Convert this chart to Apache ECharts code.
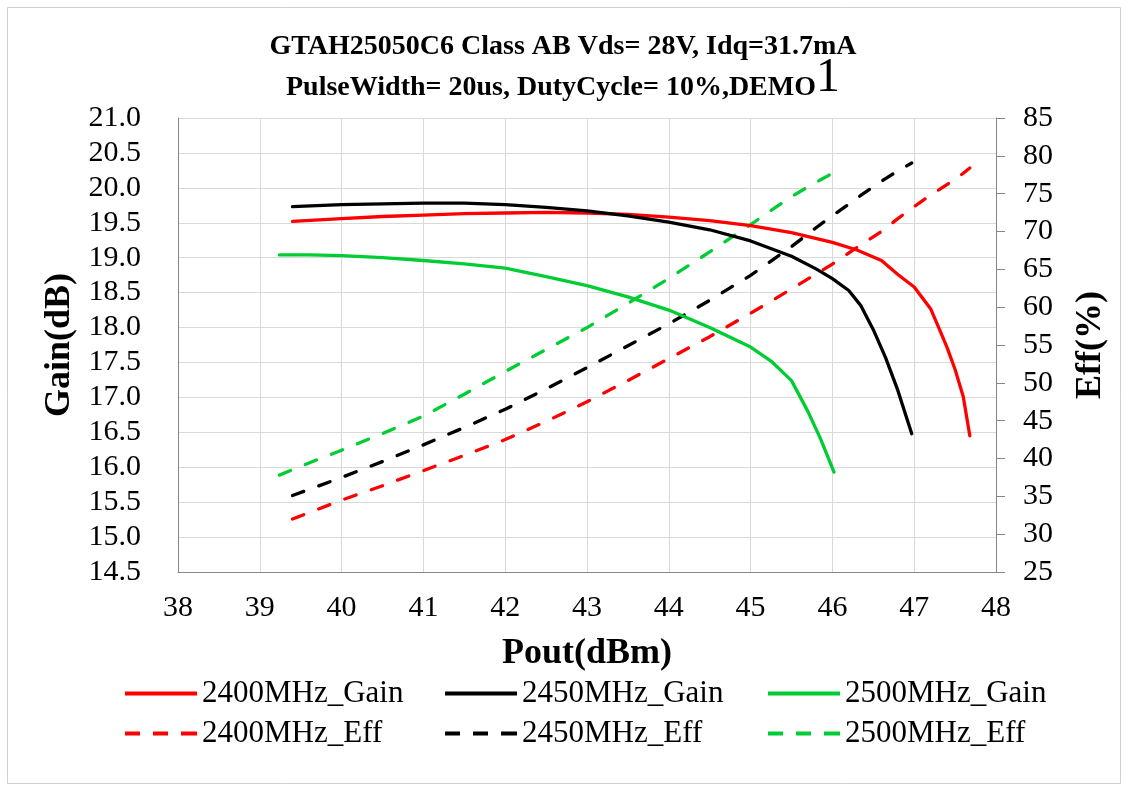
<!DOCTYPE html>
<html>
<head>
<meta charset="utf-8">
<script src="https://cdn.jsdelivr.net/npm/echarts@6/dist/echarts.min.js"></script>
<style>html,body{margin:0;padding:0;background:#fff;}#c{width:1126px;height:785px;}</style>
</head>
<body>
<div id="c"></div>
<script>
// ---- data ----
const titleLine1 = 'GTAH25050C6 Class AB Vds= 28V, Idq=31.7mA';
const titleLine2 = 'PulseWidth= 20us, DutyCycle= 10%,DEMO';
const titleSuffix = '1';
const xName = 'Pout(dBm)';
const yLeftName = 'Gain(dB)';
const yRightName = 'Eff(%)';
const seriesNames = ['2400MHz_Gain', '2450MHz_Gain', '2500MHz_Gain', '2400MHz_Eff', '2450MHz_Eff', '2500MHz_Eff'];

const pout2400 = [39.4, 40.0, 40.5, 41.0, 41.5, 42.0, 42.5, 43.0, 43.5, 44.0, 44.5, 45.0, 45.5, 46.0, 46.3, 46.6, 46.8, 47.0, 47.2, 47.3, 47.4, 47.5, 47.6, 47.68];
const gain2400 = [19.52, 19.56, 19.59, 19.61, 19.63, 19.64, 19.65, 19.64, 19.62, 19.58, 19.53, 19.46, 19.36, 19.22, 19.11, 18.96, 18.76, 18.58, 18.27, 18.00, 17.72, 17.40, 17.01, 16.45];
const eff2400  = [32.0, 34.5, 36.4, 38.4, 40.4, 42.5, 44.9, 47.5, 50.3, 53.2, 56.1, 59.2, 62.4, 65.7, 67.9, 70.0, 71.7, 73.3, 74.8, 75.5, 76.2, 76.9, 77.7, 78.4];

const pout2450 = [39.4, 40.0, 40.5, 41.0, 41.5, 42.0, 42.5, 43.0, 43.5, 44.0, 44.5, 45.0, 45.5, 45.8, 46.0, 46.2, 46.35, 46.5, 46.65, 46.8, 46.97];
const gain2450 = [19.73, 19.76, 19.77, 19.78, 19.78, 19.76, 19.72, 19.67, 19.60, 19.51, 19.40, 19.24, 19.02, 18.84, 18.70, 18.53, 18.31, 17.97, 17.57, 17.10, 16.48];
const eff2450  = [35.1, 37.5, 39.6, 41.8, 44.1, 46.5, 49.2, 52.0, 54.9, 57.8, 60.9, 64.2, 68.0, 70.5, 72.1, 73.6, 74.8, 75.9, 77.0, 78.0, 79.05];

const pout2500 = [39.24, 39.6, 40.0, 40.5, 41.0, 41.5, 42.0, 42.5, 43.0, 43.5, 44.0, 44.5, 45.0, 45.25, 45.5, 45.7, 45.85, 46.02];
const gain2500 = [19.04, 19.04, 19.03, 19.00, 18.96, 18.91, 18.85, 18.73, 18.60, 18.44, 18.25, 18.00, 17.72, 17.52, 17.24, 16.80, 16.42, 15.93];
const eff2500  = [37.8, 39.4, 41.1, 43.3, 45.6, 48.5, 51.5, 54.4, 57.3, 60.5, 63.8, 67.3, 70.9, 72.8, 74.6, 75.9, 76.8, 77.8];

const xMin = 38, xMax = 48, xStep = 1;
const gMin = 14.5, gMax = 21.0, gStep = 0.5;
const eMin = 25, eMax = 85, eStep = 5;

// ---- styling ----
const FONT = "'Liberation Serif', 'Times New Roman', serif";
const colors = ['#ff0000', '#000000', '#00cc33'];
const dashPattern = [12, 16];

function pairs(xs, ys) { return xs.map((x, i) => [x, ys[i]]); }

const solidIcon = 'rect';
const dashIcon = 'path://M0,0h15v4h-15z M28,0h15v4h-15z M56,0h16v4h-16z';

function mkSeries(name, xs, ys, color, dashed, yIdx) {
  return {
    name: name, type: 'line', yAxisIndex: yIdx,
    data: pairs(xs, ys),
    symbol: 'none', smooth: false, animation: false,
    itemStyle: { color: color, borderWidth: 0 },
    lineStyle: { color: color, width: 3.3, type: dashed ? dashPattern : 'solid', cap: 'round', join: 'round' },
    z: dashed ? 2 : 3
  };
}

const series = [
  mkSeries(seriesNames[0], pout2400, gain2400, colors[0], false, 0),
  mkSeries(seriesNames[1], pout2450, gain2450, colors[1], false, 0),
  mkSeries(seriesNames[2], pout2500, gain2500, colors[2], false, 0),
  mkSeries(seriesNames[3], pout2400, eff2400, colors[0], true, 1),
  mkSeries(seriesNames[4], pout2450, eff2450, colors[1], true, 1),
  mkSeries(seriesNames[5], pout2500, eff2500, colors[2], true, 1)
];

function mkLegend(left, names) {
  return {
    orient: 'vertical', left: left, top: 678, itemWidth: 72, itemHeight: 4, itemGap: 9,
    padding: 0, selectedMode: false,
    textStyle: { fontFamily: FONT, fontSize: 31, color: '#000' },
    itemStyle: { borderWidth: 0 },
    data: [
      { name: names[0], icon: solidIcon },
      { name: names[1], icon: dashIcon }
    ]
  };
}

const chart = echarts.init(document.getElementById('c'), null, { renderer: 'canvas' });
chart.setOption({
  backgroundColor: '#ffffff',
  animation: false,
  title: [
    { text: titleLine1, left: 'center', top: 28,
      textStyle: { fontFamily: FONT, fontSize: 28, fontWeight: 'bold', color: '#000' } },
    { text: '{b|' + titleLine2 + '}{n|' + titleSuffix + '}', left: 'center', top: 49,
      textStyle: { rich: {
        b: { fontFamily: FONT, fontSize: 28, fontWeight: 'bold', color: '#000', verticalAlign: 'bottom' },
        n: { fontFamily: FONT, fontSize: 48, fontWeight: 'normal', color: '#000', verticalAlign: 'bottom' }
      } } }
  ],
  graphic: [{
    type: 'rect', silent: true, z: -10,
    shape: { x: 7.5, y: 7.5, width: 1113, height: 776 },
    style: { fill: 'none', stroke: '#d0d0d0', lineWidth: 1 }
  }],
  legend: [
    mkLegend(125, [seriesNames[0], seriesNames[3]]),
    mkLegend(445, [seriesNames[1], seriesNames[4]]),
    mkLegend(768, [seriesNames[2], seriesNames[5]])
  ],
  grid: { left: 178, right: 130, top: 118, bottom: 213, containLabel: false },
  xAxis: {
    type: 'value', min: xMin, max: xMax, interval: xStep,
    name: xName, nameLocation: 'middle', nameGap: 64,
    nameTextStyle: { fontFamily: FONT, fontSize: 36, fontWeight: 'bold', color: '#000' },
    axisLine: { show: true, onZero: false, lineStyle: { color: '#868686', width: 1 } },
    axisTick: { show: false },
    axisLabel: { fontFamily: FONT, fontSize: 30, color: '#000', margin: 21 },
    splitLine: { show: true, lineStyle: { color: '#d9d9d9', width: 1 } }
  },
  yAxis: [
    {
      type: 'value', min: gMin, max: gMax, interval: gStep, position: 'left',
      name: yLeftName, nameLocation: 'middle', nameGap: 98, nameRotate: 90,
      nameTextStyle: { fontFamily: FONT, fontSize: 36, fontWeight: 'bold', color: '#000' },
      axisLine: { show: true, onZero: false, lineStyle: { color: '#868686', width: 1 } },
      axisTick: { show: false },
      axisLabel: { fontFamily: FONT, fontSize: 30, color: '#000', margin: 37, formatter: v => v.toFixed(1) },
      splitLine: { show: true, lineStyle: { color: '#d9d9d9', width: 1 } }
    },
    {
      type: 'value', min: eMin, max: eMax, interval: eStep, position: 'right',
      name: yRightName, nameLocation: 'middle', nameGap: 77, nameRotate: 90,
      nameTextStyle: { fontFamily: FONT, fontSize: 36, fontWeight: 'bold', color: '#000' },
      axisLine: { show: true, onZero: false, lineStyle: { color: '#868686', width: 1 } },
      axisTick: { show: true, inside: false, length: 9, lineStyle: { color: '#868686', width: 1 } },
      axisLabel: { fontFamily: FONT, fontSize: 30, color: '#000', margin: 27 },
      splitLine: { show: false }
    }
  ],
  series: series
});
</script>
</body>
</html>
